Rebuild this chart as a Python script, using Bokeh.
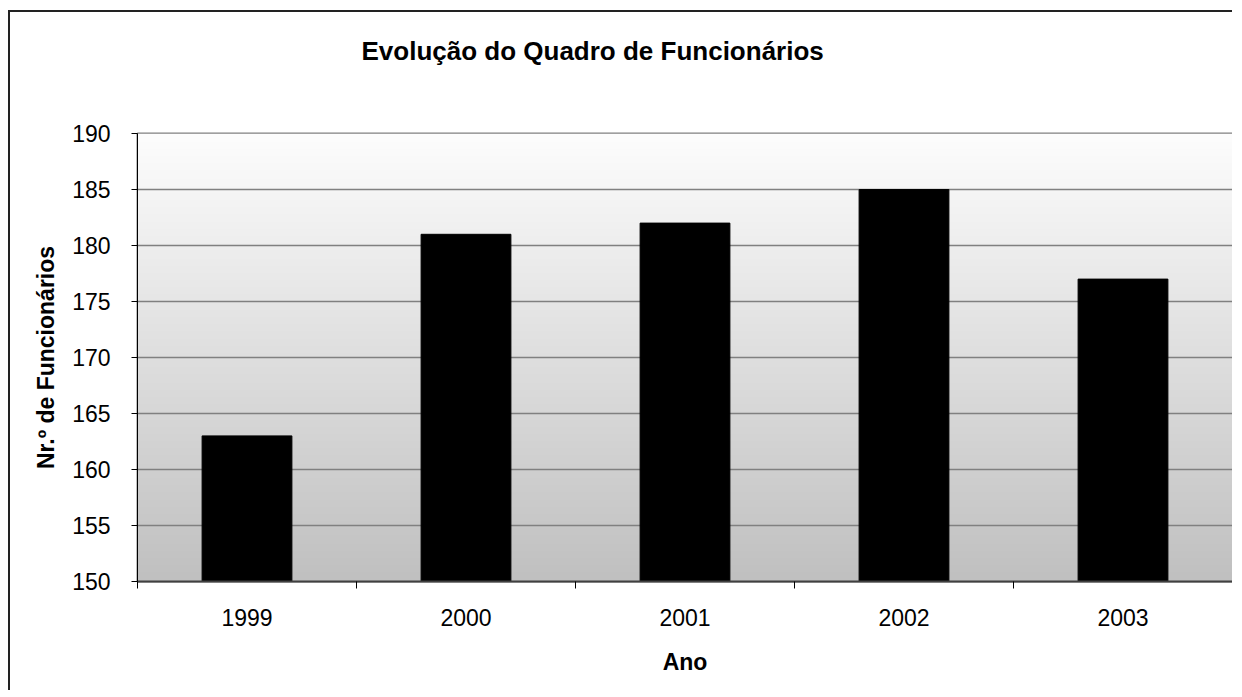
import numpy as np
from bokeh.plotting import figure
from bokeh.models import Range1d, FixedTicker, Title
from bokeh.embed import file_html
from bokeh.resources import INLINE

years = ["1999", "2000", "2001", "2002", "2003"]
staff = [163, 181, 182, 185, 177]
y_ticks = [150, 155, 160, 165, 170, 175, 180, 185, 190]
title_text = "Evolução do Quadro de Funcionários"

FONT = "Liberation Sans"

p = figure(width=1224, height=680, x_range=Range1d(0, len(years)),
           y_range=Range1d(y_ticks[0], y_ticks[-1]),
           output_backend="svg", toolbar_location=None,
           min_border_left=127, min_border_right=2, min_border_top=121,
           min_border_bottom=111,
           styles={"border-left": "2px solid #222", "border-top": "2px solid #222",
                   "margin-left": "8px", "margin-top": "10px"})

# gradient background of the plot area
n = 256
grad = np.zeros((n, 1), dtype=np.uint32)
view = grad.view(dtype=np.uint8).reshape((n, 1, 4))
vals = np.linspace(192, 253, n).astype(np.uint8)
view[:, 0, 0] = vals
view[:, 0, 1] = vals
view[:, 0, 2] = vals
view[:, 0, 3] = 255
img = p.image_rgba(image=[grad], x=0, y=y_ticks[0], dw=len(years),
                   dh=y_ticks[-1] - y_ticks[0])
img.level = "image"

xs = [i + 0.5 for i in range(len(years))]
p.vbar(x=xs, top=staff, bottom=y_ticks[0], width=0.41,
       fill_color="black", line_color="black")

# spacer panel between the plot area and the title
spacer = Title(text=" ", text_font_size="10px", standoff=50)
p.add_layout(spacer, "above")

p.title.text = title_text
p.title.text_font = FONT
p.title.text_font_size = "26px"
p.title.text_font_style = "bold"
p.title.text_color = "black"
p.title.align = "left"
p.title.offset = 224
p.title.standoff = 10

xa = p.xaxis[0]
xa.ticker = FixedTicker(ticks=xs, minor_ticks=list(range(len(years) + 1)))
xa.major_label_overrides = {x: y for x, y in zip(xs, years)}
xa.major_tick_line_color = None
xa.major_tick_out = 0
xa.major_tick_in = 0
xa.minor_tick_out = 7
xa.minor_tick_in = 0
xa.minor_tick_line_color = "black"
xa.axis_line_color = "#404040"
xa.axis_line_width = 2
xa.major_label_text_font = FONT
xa.major_label_text_font_size = "23px"
xa.major_label_text_color = "black"
xa.major_label_standoff = 20
xa.axis_label = "Ano"
xa.axis_label_text_font = FONT
xa.axis_label_text_font_size = "23px"
xa.axis_label_text_font_style = "bold"
xa.axis_label_text_color = "black"
xa.axis_label_standoff = 20

ya = p.yaxis[0]
ya.ticker = FixedTicker(ticks=y_ticks)
ya.major_tick_out = 6
ya.major_tick_in = 0
ya.minor_tick_line_color = None
ya.major_tick_line_color = "black"
ya.axis_line_color = "black"
ya.axis_line_width = 1
ya.major_label_text_font = FONT
ya.major_label_text_font_size = "23px"
ya.major_label_text_color = "black"
ya.major_label_standoff = 21
ya.axis_label = "Nr.º de Funcionários"
ya.axis_label_text_font = FONT
ya.axis_label_text_font_size = "23px"
ya.axis_label_text_font_style = "bold"
ya.axis_label_text_color = "black"
ya.axis_label_standoff = 10

p.xgrid.grid_line_color = None
p.ygrid.grid_line_color = "#808080"
p.ygrid.grid_line_width = 1.5
p.ygrid.ticker = FixedTicker(ticks=y_ticks)

p.outline_line_color = "#808080"
p.outline_line_width = 2
p.background_fill_color = "white"
p.border_fill_color = "white"

open("out.html", "w").write(file_html(p, INLINE))
